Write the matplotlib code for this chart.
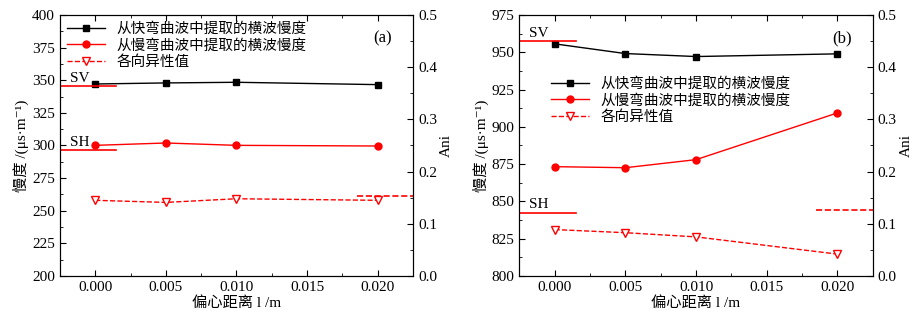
import numpy as np
import matplotlib.pyplot as plt
from matplotlib.ticker import MultipleLocator, AutoMinorLocator

plt.rcParams['font.family'] = ['Liberation Serif', 'Noto Sans CJK SC', 'DejaVu Serif']

# eccentric distance (m)
ecc = [0.000, 0.005, 0.010, 0.020]

# panel (a)
fast_a = [347.1, 347.9, 348.4, 346.6]
slow_a = [300.1, 301.9, 300.1, 299.6]
ani_a = [0.145, 0.141, 0.148, 0.145]
sv_ref_a = 345.8
sh_ref_a = 296.6
ani_ref_a = 0.153

# panel (b)
fast_b = [955.6, 949.1, 947.1, 948.9]
slow_b = [873.3, 872.6, 878.0, 909.3]
ani_b = [0.089, 0.083, 0.075, 0.042]
sv_ref_b = 957.3
sh_ref_b = 842.3
ani_ref_b = 0.127

xlim = (-0.0025, 0.0225)
lab_fast = '从快弯曲波中提取的横波慢度'
lab_slow = '从慢弯曲波中提取的横波慢度'
lab_ani = '各向异性值'

fig = plt.figure(figsize=(9.17, 3.24), dpi=100)
ax_a = fig.add_axes([0.0654, 0.148, 0.385, 0.806])
ax_b = fig.add_axes([0.5663, 0.148, 0.3854, 0.806])


def draw(ax, fast, slow, ani, sv, sh, ani_ref, ylim, ystep, tag, leg_anchor):
    ax2 = ax.twinx()
    l1, = ax.plot(ecc, fast, '-s', color='black', lw=1, ms=4.5, label=lab_fast)
    l2, = ax.plot(ecc, slow, '-o', color='red', lw=1, ms=5, label=lab_slow)
    l3, = ax2.plot(ecc, ani, '--v', color='red', lw=1, ms=6, mfc='white',
                   mec='red', label=lab_ani)
    # reference levels
    ax.plot([xlim[0], 0.0015], [sv, sv], color='red', lw=1.2)
    ax.plot([xlim[0], 0.0015], [sh, sh], color='red', lw=1.2)
    ax2.plot([0.0185, xlim[1]], [ani_ref, ani_ref], '--', color='red', lw=1.2)
    ax.text(-0.0018, sv + ystep * 0.12, 'SV', fontsize=11)
    ax.text(-0.0018, sh + ystep * 0.12, 'SH', fontsize=11)

    ax.set_xlim(*xlim)
    ax.set_ylim(*ylim)
    ax2.set_ylim(0, 0.5)
    ax.xaxis.set_major_locator(MultipleLocator(0.005))
    ax.xaxis.set_minor_locator(AutoMinorLocator(2))
    ax.yaxis.set_major_locator(MultipleLocator(ystep))
    ax.yaxis.set_minor_locator(AutoMinorLocator(2))
    ax2.yaxis.set_major_locator(MultipleLocator(0.1))
    ax2.yaxis.set_minor_locator(AutoMinorLocator(2))
    ax.xaxis.set_major_formatter(plt.FormatStrFormatter('%.3f'))
    ax2.yaxis.set_major_formatter(plt.FormatStrFormatter('%.1f'))
    ax.tick_params(which='both', direction='in', top=True, labelsize=11)
    ax.tick_params(which='major', length=4)
    ax.tick_params(which='minor', length=2)
    ax2.tick_params(which='both', direction='in', labelsize=11)
    ax2.tick_params(which='major', length=4)
    ax2.tick_params(which='minor', length=2)

    ax.set_xlabel('偏心距离 l /m', fontsize=11, labelpad=2)
    ax.set_ylabel('慢度 /(μs·m⁻¹)', fontsize=11, labelpad=2)
    ax2.set_ylabel('Ani', fontsize=11, labelpad=2)
    ax.text(0.94, 0.91, tag, transform=ax.transAxes, fontsize=12,
            ha='right', va='center')
    ax.legend(handles=[l1, l2, l3], loc='upper left', bbox_to_anchor=leg_anchor,
              frameon=False, fontsize=10.5, handlelength=2.6,
              labelspacing=0.2, borderaxespad=0.3, borderpad=0.2)


draw(ax_a, fast_a, slow_a, ani_a, sv_ref_a, sh_ref_a, ani_ref_a,
     (200, 400), 25, '(a)', (0.0, 1.0))
draw(ax_b, fast_b, slow_b, ani_b, sv_ref_b, sh_ref_b, ani_ref_b,
     (800, 975), 25, '(b)', (0.07, 0.79))

fig.savefig('out.png', dpi=100)
